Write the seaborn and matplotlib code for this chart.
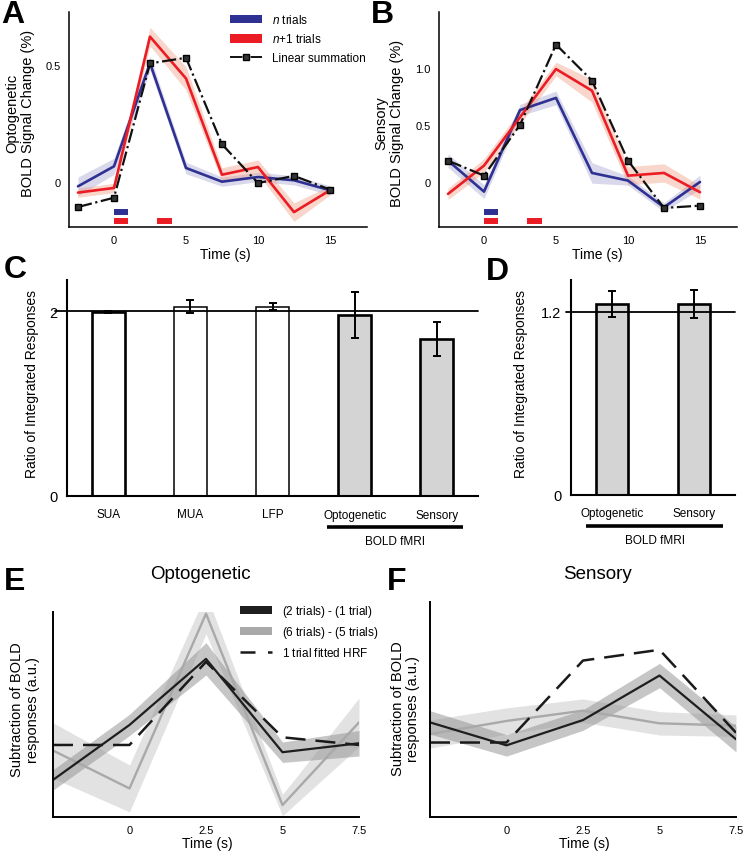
import numpy as np
import matplotlib
matplotlib.use('Agg')
import matplotlib.pyplot as plt
from matplotlib.patches import Patch
from matplotlib.lines import Line2D
from matplotlib.transforms import blended_transform_factory
import seaborn as sns

sns.set_style('white')
plt.rcParams['font.family'] = ['Liberation Sans', 'DejaVu Sans']
plt.rcParams['mathtext.fontset'] = 'custom'
plt.rcParams['mathtext.it'] = 'Liberation Sans:italic'
plt.rcParams['mathtext.rm'] = 'Liberation Sans'
for key in ('text.color', 'axes.labelcolor', 'xtick.color', 'ytick.color'):
    plt.rcParams[key] = 'black'

W, H = 744, 853

# --- A / B : event-related BOLD time courses
TIME = [-2.5, 0, 2.5, 5, 7.5, 10, 12.5, 15]
OPTO_N = [-0.02, 0.066, 0.51, 0.059, 0.0, 0.02, 0.006, -0.037]
OPTO_N_ERR = [0.04, 0.035, 0.03, 0.025, 0.02, 0.02, 0.02, 0.02]
OPTO_N1 = [-0.047, -0.027, 0.624, 0.444, 0.03, 0.063, -0.131, -0.037]
OPTO_N1_ERR = [0.02, 0.02, 0.04, 0.05, 0.03, 0.03, 0.04, 0.02]
OPTO_LIN = [-0.109, -0.069, 0.509, 0.533, 0.161, -0.006, 0.025, -0.034]

SENS_N = [0.187, -0.085, 0.63, 0.737, 0.079, 0.012, -0.222, 0.0]
SENS_N_ERR = [0.06, 0.06, 0.05, 0.06, 0.09, 0.04, 0.04, 0.06]
SENS_N1 = [-0.105, 0.143, 0.567, 0.99, 0.80, 0.055, 0.079, -0.09]
SENS_N1_ERR = [0.05, 0.06, 0.06, 0.06, 0.10, 0.08, 0.08, 0.06]
SENS_LIN = [0.187, 0.055, 0.50, 1.205, 0.889, 0.187, -0.228, -0.208]

STIM_N = [(0, 1)]
STIM_N1 = [(0, 1), (3, 4)]

# --- C / D : ratio of integrated responses
C_LABELS = ['SUA', 'MUA', 'LFP', 'Optogenetic', 'Sensory']
C_RATIO = [1.99, 2.05, 2.05, 1.96, 1.70]
C_ERR = [0.01, 0.07, 0.04, 0.245, 0.18]
C_IS_BOLD = [False, False, False, True, True]
D_LABELS = ['Optogenetic', 'Sensory']
D_RATIO = [1.25, 1.25]
D_ERR = [0.087, 0.09]

# --- E / F : subtraction of BOLD responses
E_TIME = [-2.5, 0, 2.5, 5, 7.5]
E_2M1 = [-0.82, 0.47, 2.02, -0.17, 0.04]
E_2M1_ERR = [0.24, 0.25, 0.38, 0.24, 0.3]
E_6M5 = [-0.13, -1.02, 3.08, -1.41, 0.53]
E_6M5_ERR = [0.65, 0.55, 0.47, 0.25, 0.57]
E_HRF = [0.0, 0.0, 1.95, 0.18, 0.0]

F_2M1 = [0.43, -0.06, 0.48, 1.43, 0.07]
F_2M1_ERR = [0.25, 0.23, 0.22, 0.26, 0.27]
F_6M5 = [0.18, 0.46, 0.68, 0.41, 0.36]
F_6M5_ERR = [0.3, 0.28, 0.25, 0.25, 0.23]
F_HRF = [0.0, 0.0, 1.75, 1.98, 0.21]

BLUE = '#2e3192'
RED = '#ec1c24'
BAR_GRAY = '#d4d4d4'

fig = plt.figure(figsize=(W / 100, H / 100), dpi=100)


def px_axes(l, t, r, b):
    return fig.add_axes([l / W, 1 - b / H, (r - l) / W, (b - t) / H])


def clean(ax, lw):
    sns.despine(ax=ax)
    for s in ('left', 'bottom'):
        ax.spines[s].set_linewidth(lw)
        ax.spines[s].set_color('black')


def time_panel(ax, n, n_err, n1, n1_err, lin, ylim, yticks, yticklabels, ylabel, lab_xy):
    n, n_err, n1, n1_err = map(np.asarray, (n, n_err, n1, n1_err))
    ax.fill_between(TIME, n - n_err, n + n_err, color=BLUE, alpha=0.18, lw=0)
    ax.fill_between(TIME, n1 - n1_err, n1 + n1_err, color='#f08a6a', alpha=0.35, lw=0)
    sns.lineplot(x=TIME, y=n, ax=ax, color=BLUE, lw=1.9, errorbar=None)
    sns.lineplot(x=TIME, y=n1, ax=ax, color=RED, lw=1.9, errorbar=None)
    sns.lineplot(x=TIME, y=lin, ax=ax, color='#111111', lw=1.6, linestyle='-.',
                 marker='s', markersize=4.5, markerfacecolor='#333333',
                 markeredgecolor='black', markeredgewidth=1, errorbar=None)
    trans = blended_transform_factory(ax.transData, ax.transAxes)
    for s, e in STIM_N:
        ax.plot([s, e], [0.07, 0.07], color=BLUE, lw=4.3, solid_capstyle='butt', transform=trans)
    for s, e in STIM_N1:
        ax.plot([s, e], [0.028, 0.028], color=RED, lw=4.3, solid_capstyle='butt', transform=trans)
    ax.set_xlim(-3.125, 17.57)
    ax.set_ylim(*ylim)
    ax.set_xticks([0, 5, 10, 15])
    ax.set_xticklabels(['0', '5', '10', '15'])
    ax.set_yticks(yticks)
    ax.set_yticklabels(yticklabels)
    ax.tick_params(direction='in', length=3, width=1, labelsize=8, pad=6)
    ax.set_xlabel('Time (s)', fontsize=10, va='center')
    ax.xaxis.set_label_coords(lab_xy[0], -0.126)
    ax.set_ylabel(ylabel, fontsize=10.5, va='center', linespacing=1.15)
    ax.yaxis.set_label_coords(lab_xy[1], lab_xy[2])
    clean(ax, 1.1)


def bar_panel(ax, labels, vals, errs, is_bold, ref, ylim, ylab_x, ul, minor):
    fills = [BAR_GRAY if b else 'white' for b in is_bold]
    sns.barplot(x=labels, y=vals, hue=labels, palette=fills, legend=False,
                width=0.4, edgecolor='black', linewidth=1.2, errorbar=None, ax=ax)
    for p, b, lab in zip(ax.patches, is_bold, labels):
        p.set_linewidth(1.9 if (b or lab == 'SUA') else 1.1)
        p.set_zorder(2)
    ax.errorbar(range(len(labels)), vals, yerr=errs, fmt='none', ecolor='black',
                elinewidth=1.4, capsize=3, capthick=1.4, zorder=4)
    ax.axhline(ref, color='black', lw=1.3, zorder=3, xmin=-0.03, clip_on=False)
    ax.set_xlim(-0.5, len(labels) - 0.5)
    ax.set_ylim(*ylim)
    ax.set_yticks([0, ref])
    ax.set_yticklabels(['0', f'{ref:g}'])
    ax.set_xticks(range(len(labels)))
    ax.set_xticklabels(labels, fontsize=8.5)
    ax.set_xticks(minor, minor=True)
    ax.tick_params(axis='x', which='major', length=0, pad=9)
    ax.tick_params(axis='x', which='minor', direction='out', length=3, width=1)
    ax.tick_params(axis='y', direction='out', length=3, width=1, labelsize=10.5, pad=4)
    ax.set_xlabel('')
    ax.set_ylabel('Ratio of Integrated Responses', fontsize=10, va='center')
    ax.yaxis.set_label_coords(ylab_x, 0.523)
    trans = blended_transform_factory(ax.transData, ax.transAxes)
    ax.plot(ul, [-0.1435, -0.1435], color='black', lw=2.6, transform=trans, clip_on=False,
            solid_capstyle='butt')
    ax.text(np.mean(ul), -0.21, 'BOLD fMRI', transform=trans, ha='center', va='center',
            fontsize=8.5)
    clean(ax, 1.5)


def diff_panel(ax, d21, d21_err, d65, d65_err, hrf, ylim, yticks, lab_xy):
    d21, d21_err, d65, d65_err = map(np.asarray, (d21, d21_err, d65, d65_err))
    ax.fill_between(E_TIME, d65 - d65_err, d65 + d65_err, color='#cfcfcf', alpha=0.6, lw=0)
    sns.lineplot(x=E_TIME, y=d65, ax=ax, color='#a9a9a9', lw=1.7, errorbar=None)
    ax.fill_between(E_TIME, d21 - d21_err, d21 + d21_err, color='#8f8f8f', alpha=0.5, lw=0)
    sns.lineplot(x=E_TIME, y=hrf, ax=ax, color='#1a1a1a', lw=1.8, linestyle=(0, (8, 4)),
                 errorbar=None)
    sns.lineplot(x=E_TIME, y=d21, ax=ax, color='#1e1e1e', lw=1.6, errorbar=None)
    ax.set_xlim(-2.5, 7.5)
    ax.set_ylim(*ylim)
    ax.set_xticks([0, 2.5, 5, 7.5])
    ax.set_xticklabels(['0', '2.5', '5', '7.5'])
    ax.set_yticks(yticks)
    ax.set_yticklabels([])
    ax.tick_params(direction='in', length=3, width=1, labelsize=8, pad=6)
    ax.set_xlabel('Time (s)', fontsize=10, va='center')
    ax.xaxis.set_label_coords(0.503, lab_xy[0])
    ax.set_ylabel('Subtraction of BOLD\nresponses (a.u.)', fontsize=10.5, va='center',
                  linespacing=1.15)
    ax.yaxis.set_label_coords(lab_xy[1], lab_xy[2])
    clean(ax, 1.4)


# A
axA = px_axes(69, 13, 367, 228)
time_panel(axA, OPTO_N, OPTO_N_ERR, OPTO_N1, OPTO_N1_ERR, OPTO_LIN, (-0.195, 0.73),
           [0, 0.5], ['0', '0.5'], 'Optogenetic\nBOLD Signal Change (%)', (0.523, -0.163, 0.535))
handles = [Patch(facecolor=BLUE, edgecolor='none'), Patch(facecolor=RED, edgecolor='none'),
           Line2D([], [], color='#111111', lw=1.4, linestyle='-.', marker='s', markersize=4,
                  markerfacecolor='#333333', markeredgecolor='black')]
axA.legend(handles, ['$n$ trials', '$n$$\\mathit{+1}$ trials', 'Linear summation'],
           loc='upper left', bbox_to_anchor=(230 / W, 1 - 14 / H), bbox_transform=fig.transFigure,
           frameon=False, fontsize=8.5, handlelength=2.75, handleheight=0.75, labelspacing=0.55,
           handletextpad=0.8, borderpad=0, borderaxespad=0)

# B
axB = px_axes(439, 13, 737, 228)
time_panel(axB, SENS_N, SENS_N_ERR, SENS_N1, SENS_N1_ERR, SENS_LIN, (-0.395, 1.49),
           [0, 0.5, 1.0], ['0', '0.5', '1.0'], 'Sensory\nBOLD Signal Change (%)', (0.53, -0.168, 0.486))

# C
axC = px_axes(67, 281, 478, 497)
bar_panel(axC, C_LABELS, C_RATIO, C_ERR, C_IS_BOLD, 2, (0, 2.34), -0.084,
          [2.66, 4.32], [0.5, 1.5, 2.5, 3.5])

# D
axD = px_axes(571, 281, 735, 496)
bar_panel(axD, D_LABELS, D_RATIO, D_ERR, [True, True], 1.2, (0, 1.407), -0.305,
          [-0.317, 1.357], [0.5])

# E
axE = px_axes(53, 613, 359, 818)
diff_panel(axE, E_2M1, E_2M1_ERR, E_6M5, E_6M5_ERR, E_HRF, (-1.69, 3.12), [-1, 0, 1, 2, 3],
           (-0.127, -0.0915, 0.527))
handles = [Patch(facecolor='#1e1e1e', edgecolor='none'), Patch(facecolor='#a9a9a9', edgecolor='none'),
           Line2D([], [], color='#1a1a1a', lw=1.8, linestyle=(0, (6, 5)))]
axE.legend(handles, ['($\\mathit{2}$ trials) - ($\\mathit{1}$ trial)',
                     '($\\mathit{6}$ trials) - ($\\mathit{5}$ trials)',
                     '$\\mathit{1}$ trial fitted HRF'],
           loc='upper left', bbox_to_anchor=(240 / W, 1 - 604 / H), bbox_transform=fig.transFigure,
           frameon=False, fontsize=8.5, handlelength=2.75, handleheight=0.6, labelspacing=0.45,
           handletextpad=0.8, borderpad=0, borderaxespad=0)

# F
axF = px_axes(430, 603, 736, 818)
diff_panel(axF, F_2M1, F_2M1_ERR, F_6M5, F_6M5_ERR, F_HRF, (-1.59, 3.0), [-1, 0, 1, 2],
           (-0.121, -0.08, 0.509))

fig.text(200 / W, 1 - 575 / H, 'Optogenetic', ha='center', va='center', fontsize=13.5)
fig.text(597 / W, 1 - 575 / H, 'Sensory', ha='center', va='center', fontsize=13.5)

for letter, x, y in [('A', 13, 15), ('B', 382, 15), ('C', 15, 270), ('D', 497, 272),
                     ('E', 15, 582), ('F', 397, 582)]:
    fig.text(x / W, 1 - y / H, letter, ha='center', va='center', fontsize=23, fontweight='bold')

fig.savefig('out.png', dpi=100)
